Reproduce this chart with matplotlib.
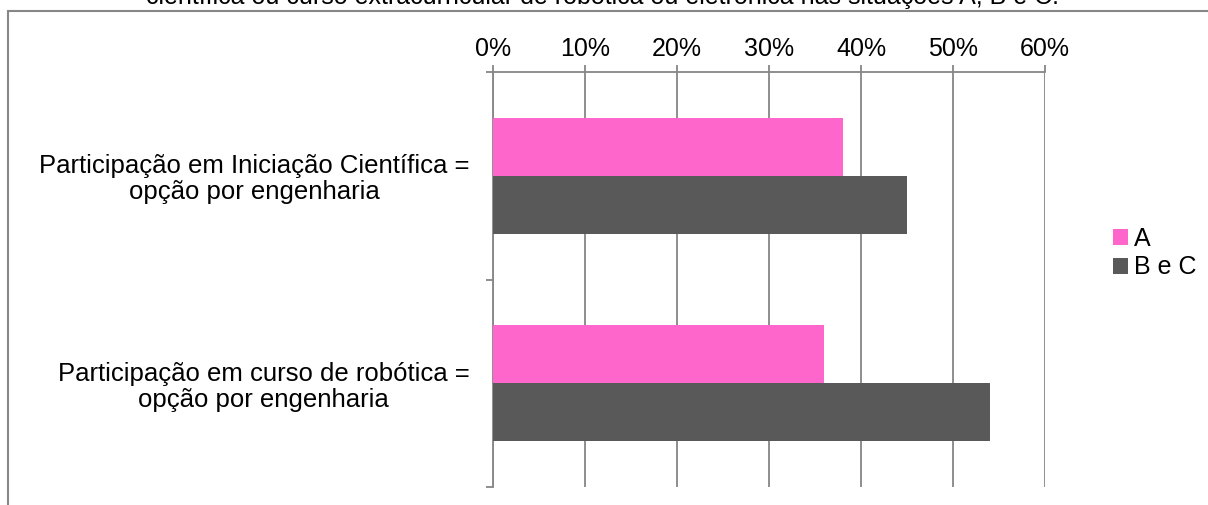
import matplotlib
matplotlib.use("Agg")
import matplotlib.pyplot as plt
from matplotlib.patches import Rectangle
import numpy as np

categories = [
    "Participação em Iniciação Científica =\nopção por engenharia",
    "Participação em curso de robótica =\nopção por engenharia",
]
series_names = ["A", "B e C"]
values_a = [0.38, 0.36]
values_bc = [0.45, 0.54]
x_ticks = [0.0, 0.1, 0.2, 0.3, 0.4, 0.5, 0.6]
x_tick_labels = ["0%", "10%", "20%", "30%", "40%", "50%", "60%"]
title = "científica ou curso extracurricular de robótica ou eletrônica nas situações A, B e C."

plt.rcParams["font.family"] = ["Liberation Sans", "DejaVu Sans"]
FS = 18

W, H = 1208, 505
fig = plt.figure(figsize=(W / 100, H / 100), dpi=100)

ax = fig.add_axes([493 / W, 1 - 487 / H, (1045 - 493) / W, (487 - 72) / H])

grid_c = "#868686"
pink = "#FF66CC"
dark = "#595959"

pos = np.arange(len(categories))
bar_h = 0.28
ax.barh(pos - bar_h / 2, values_a, height=bar_h, color=pink, label=series_names[0], zorder=3)
ax.barh(pos + bar_h / 2, values_bc, height=bar_h, color=dark, label=series_names[1], zorder=3)

ax.set_xlim(0, 0.6)
ax.set_ylim(len(categories) - 0.5, -0.5)

ax.xaxis.tick_top()
ax.set_xticks(x_ticks)
ax.set_xticklabels(x_tick_labels, fontsize=FS)
ax.tick_params(axis="x", length=5, width=1.3, color=grid_c, pad=3)
ax.grid(axis="x", color=grid_c, linewidth=1.3, zorder=0)

ax.set_yticks(np.arange(-0.5, len(categories), 1.0))
ax.set_yticklabels([])
ax.tick_params(axis="y", which="major", length=5, width=1.3, color=grid_c)
ax.set_yticks(pos, minor=True)
ax.set_yticklabels(categories, minor=True, fontsize=18.5, linespacing=1.1)
ax.tick_params(axis="y", which="minor", length=0, pad=17)
for t in ax.get_yticklabels(minor=True):
    t.set_multialignment("center")

for side in ["right", "bottom"]:
    ax.spines[side].set_visible(False)
ax.spines["left"].set_color(grid_c)
ax.spines["left"].set_linewidth(1.3)
ax.spines["top"].set_color(grid_c)
ax.spines["top"].set_linewidth(1.3)

leg = fig.legend(
    loc="center left",
    bbox_to_anchor=(1090 / W, 1 - 253 / H),
    frameon=False,
    fontsize=FS,
    handlelength=0.6,
    handleheight=0.6,
    handletextpad=0.25,
    labelspacing=0.2,
)

# outer chart border, running past the right and bottom edges
fig.patches.append(
    Rectangle((8 / W, -0.1), 1.2, 1 - 11 / H + 0.1, transform=fig.transFigure,
              fill=False, edgecolor="#878787", linewidth=1.5)
)

fig.text(602 / W, 1 - 4 / H, title, ha="center", va="baseline", fontsize=FS)

fig.savefig("out.png", dpi=100)
